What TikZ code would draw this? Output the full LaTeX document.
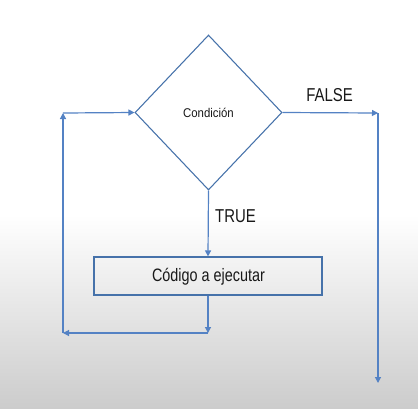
\documentclass[tikz,border=0pt]{standalone}
\usepackage{fontspec}
\setmainfont{Liberation Sans}
\newfontfamily\lab{Liberation Sans}[FakeStretch=0.8]
\newfontfamily\labc{Liberation Sans}[FakeStretch=0.9]
\usetikzlibrary{shapes.geometric,arrows.meta}
\definecolor{shapeblue}{RGB}{70,114,170}
\definecolor{arrblue}{RGB}{84,130,196}
\definecolor{bggray}{RGB}{204,204,204}
\definecolor{txt}{RGB}{25,25,25}
\begin{document}
\begin{tikzpicture}[x=0.75pt,y=-0.75pt,
  arr/.style={draw=arrblue,line width=0.9pt,-{Triangle[length=4.5pt,width=4.5pt]}},
  decision/.style={diamond,draw=shapeblue,line width=0.8pt,minimum width=110.25pt,minimum height=116.25pt,inner sep=0pt},
  procbox/.style={rectangle,draw=shapeblue,line width=0.9pt,minimum width=171pt,minimum height=28.5pt,inner sep=0pt},
  lbl/.style={text=txt,inner sep=0pt,font=\lab\fontsize{14}{16}\selectfont}]
\useasboundingbox (0,0) rectangle (418,408);
\fill[white] (0,0) rectangle (418,408);
\shade[top color=white,bottom color=bggray] (0,215) rectangle (418,408);
% nodes
\node[decision] (cond) at (208.5,112.5) {};
\node[text=txt,inner sep=0pt,font=\labc\fontsize{9.5}{11}\selectfont] (condt) at (208.5,112.5) {Condición};
\node[procbox] (box) at (208,276) {};
\node[text=txt,inner sep=0pt,font=\lab\fontsize{13.5}{15}\selectfont] (boxt) at (208.5,277) {Código a ejecutar};
\node[lbl] (false) at (329.5,95.5) {FALSE};
\node[lbl] (true) at (235.5,216) {TRUE};
% coordinates
\coordinate (tl) at (63,113);
\coordinate (bl) at (63,333);
\coordinate (bm) at (208,333);
\coordinate (tr) at (378,113);
\coordinate (br) at (378,383);
% connectors
\draw[arr] (cond.south) -- (box.north);
\draw[arr] (box.south) -- (bm);
\draw[arr] (bm) -- (bl);
\draw[arr] (bl) -- (tl);
\draw[arr] (tl) -- (cond.west);
\draw[arr] (cond.east) -- (tr);
\draw[arr] (tr) -- (br);
\end{tikzpicture}
\end{document}
